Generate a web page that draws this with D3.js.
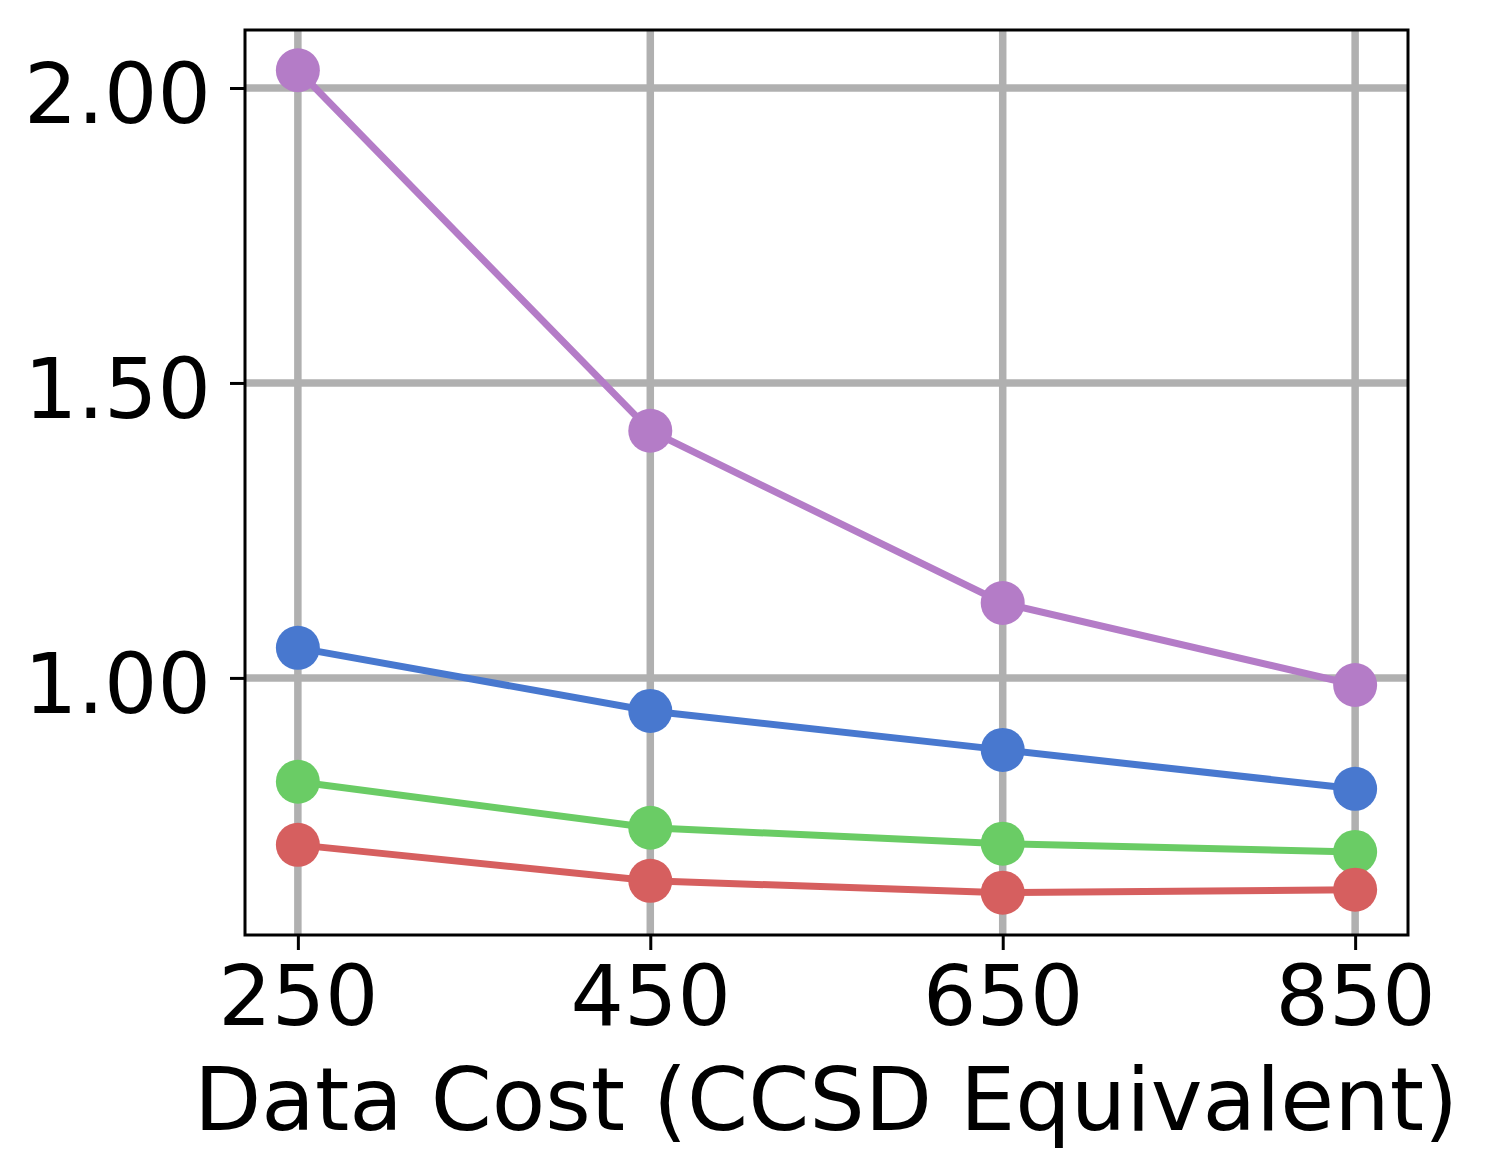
<!DOCTYPE html>
<html>
<head>
<meta charset="utf-8">
<script src="https://cdn.jsdelivr.net/npm/d3@7"></script>
<style>
  body { margin: 0; background: #fff; }
  text { font-family: "DejaVu Sans", sans-serif; fill: #000; }
</style>
</head>
<body>
<div id="chart"></div>
<script>
// data cost on x, one series per colour
var costs = [250, 450, 650, 850];
var purpleVals = [2.030, 1.419, 1.127, 0.988];
var blueVals = [1.051, 0.944, 0.878, 0.812];
var greenVals = [0.824, 0.746, 0.719, 0.705];
var redVals = [0.717, 0.656, 0.636, 0.641];
var yTicks = [1.0, 1.5, 2.0];
var xLabel = 'Data Cost (CCSD Equivalent)';

var series = [
  {name: 'purple', color: '#b47cc7', values: purpleVals},
  {name: 'blue', color: '#4878cf', values: blueVals},
  {name: 'green', color: '#6acc65', values: greenVals},
  {name: 'red', color: '#d65f5f', values: redVals}
];

var width = 1488, height = 1176;
var plotL = 245, plotR = 1408, plotT = 30, plotB = 935;

var svg = d3.select('#chart').append('svg')
  .attr('width', width)
  .attr('height', height);

var x = d3.scaleLinear().domain([220, 880]).range([plotL, plotR]);
var y = d3.scaleLinear().domain([0.5642, 2.0983]).range([plotB, plotT]);

// grid
var grid = svg.append('g');
grid.selectAll('.vg').data(costs).enter().append('line')
  .attr('x1', function(d) { return x(d); })
  .attr('x2', function(d) { return x(d); })
  .attr('y1', plotT).attr('y2', plotB)
  .attr('stroke', '#b0b0b0').attr('stroke-width', 7.5);
grid.selectAll('.hg').data(yTicks).enter().append('line')
  .attr('y1', function(d) { return y(d); })
  .attr('y2', function(d) { return y(d); })
  .attr('x1', plotL).attr('x2', plotR)
  .attr('stroke', '#b0b0b0').attr('stroke-width', 7.5);

// lines + markers
var line = d3.line()
  .x(function(d, i) { return x(costs[i]); })
  .y(function(d) { return y(d); });

series.forEach(function(s) {
  var g = svg.append('g');
  g.append('path')
    .attr('d', line(s.values))
    .attr('fill', 'none')
    .attr('stroke', s.color)
    .attr('stroke-width', 7);
  g.selectAll('circle').data(s.values).enter().append('circle')
    .attr('cx', function(d, i) { return x(costs[i]); })
    .attr('cy', function(d) { return y(d); })
    .attr('r', 22)
    .attr('fill', s.color);
});

// frame
svg.append('rect')
  .attr('x', plotL).attr('y', plotT)
  .attr('width', plotR - plotL).attr('height', plotB - plotT)
  .attr('fill', 'none').attr('stroke', '#000').attr('stroke-width', 3);

// axes
var xAxis = d3.axisBottom(x).tickValues(costs).tickSize(15).tickPadding(15)
  .tickFormat(d3.format('d'));
var yAxis = d3.axisLeft(y).tickValues(yTicks).tickSize(15).tickPadding(19)
  .tickFormat(d3.format('.2f'));

var gx = svg.append('g').attr('transform', 'translate(0,' + plotB + ')').call(xAxis);
var gy = svg.append('g').attr('transform', 'translate(' + plotL + ',0)').call(yAxis);
[gx, gy].forEach(function(g) {
  g.select('.domain').remove();
  g.selectAll('.tick line').attr('stroke', '#000').attr('stroke-width', 3);
  g.selectAll('.tick text')
    .style('font-family', '"DejaVu Sans", sans-serif')
    .style('font-size', '84px')
    .attr('fill', '#000');
});
gy.selectAll('.tick text').attr('dy', '0.41em');

svg.append('text')
  .attr('x', 826)
  .attr('y', 1130)
  .attr('text-anchor', 'middle')
  .style('font-size', '87.5px')
  .text(xLabel);
</script>
</body>
</html>
